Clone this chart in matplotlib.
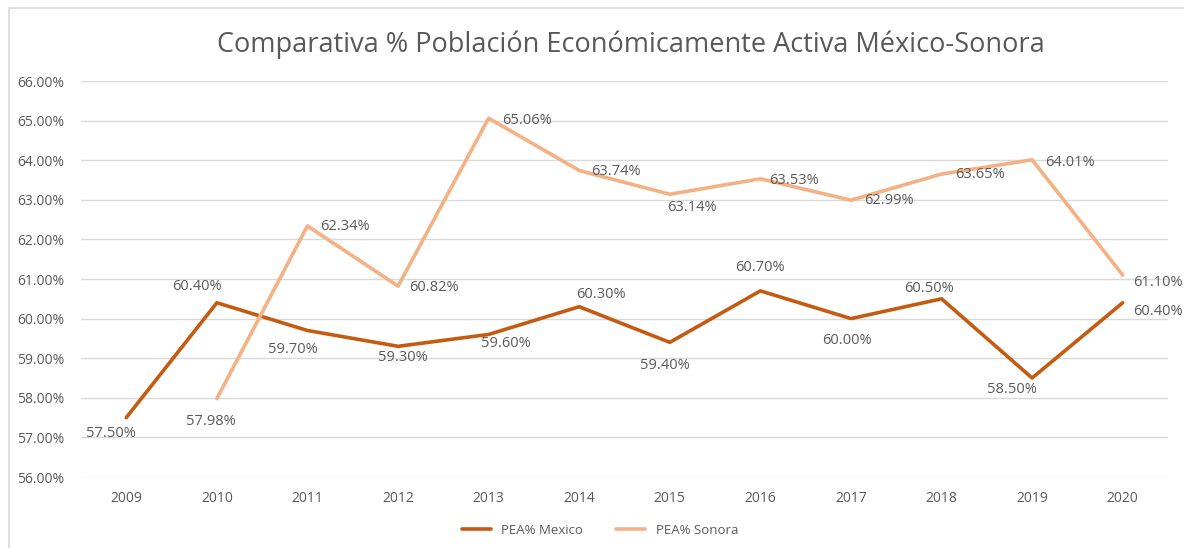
import matplotlib
matplotlib.use("Agg")
import matplotlib.pyplot as plt
from matplotlib.patches import Rectangle

years = ["2009", "2010", "2011", "2012", "2013", "2014", "2015", "2016", "2017", "2018", "2019", "2020"]
pea_mexico = [57.50, 60.40, 59.70, 59.30, 59.60, 60.30, 59.40, 60.70, 60.00, 60.50, 58.50, 60.40]
sonora_years = years[1:]
pea_sonora = [57.98, 62.34, 60.82, 65.06, 63.74, 63.14, 63.53, 62.99, 63.65, 64.01, 61.10]

# desplazamiento de las etiquetas en pixeles (dx, dy hacia abajo), como quedaron en Excel
off_mexico = [(-15, 16), (-20, -16), (-15, 19), (5, 11), (17, 9), (22, -12),
              (-5, 23), (0, -23), (-4, 22), (-13, -10), (-20, 11), (35, 9)]
off_sonora = [(-6, 23), (37, 1), (36, 1), (38, 2), (37, 1), (22, 13),
              (34, 2), (38, 0), (38, 0), (38, 3), (35, 7)]

C_MEX = "#C55A11"
C_SON = "#F4B183"
TXT = "#595959"

plt.rcParams["font.family"] = ["Open Sans", "DejaVu Sans"]

fig = plt.figure(figsize=(11.84, 5.48), dpi=100)
fig.patches.append(Rectangle((9 / 1184, -0.05), 1.1, 1 - 8 / 548 + 0.05, transform=fig.transFigure,
                             fill=False, edgecolor="#d9d9d9", linewidth=1.2))
ax = fig.add_axes([81 / 1184, 1 - 477 / 548, 1087 / 1184, 396 / 548])

x_mex = list(range(len(years)))
x_son = [years.index(y) for y in sonora_years]
ax.plot(x_mex, pea_mexico, color=C_MEX, linewidth=2.6, label="PEA% Mexico", solid_capstyle="round")
ax.plot(x_son, pea_sonora, color=C_SON, linewidth=2.6, label="PEA% Sonora", solid_capstyle="round")


def label_points(xs, ys, offs):
    for xv, yv, (dx, dy) in zip(xs, ys, offs):
        ax.annotate(f"{yv:.2f}%", (xv, yv), xytext=(dx, -dy), textcoords="offset pixels",
                    ha="center", va="center", fontsize=10.5, color=TXT)


label_points(x_mex, pea_mexico, off_mexico)
label_points(x_son, pea_sonora, off_sonora)

ax.set_xlim(-0.5, len(years) - 0.5)
ax.set_ylim(56, 66)
ax.set_yticks(range(56, 67))
ax.set_yticklabels([f"{v:.2f}%" for v in range(56, 67)])
ax.set_xticks(x_mex)
ax.set_xticklabels(years)
ax.tick_params(axis="both", length=0, colors=TXT, labelsize=10)
ax.tick_params(axis="x", pad=10)
ax.tick_params(axis="y", pad=12)
ax.grid(axis="y", color="#d9d9d9", linewidth=1)
ax.set_axisbelow(True)
for s in ax.spines.values():
    s.set_visible(False)

fig.text(631 / 1184, 1 - 45 / 548, "Comparativa % Población Económicamente Activa México-Sonora",
         ha="center", va="center", fontsize=19.5, color=TXT)

fig.legend(loc="center", bbox_to_anchor=(600 / 1184, 1 - 530 / 548), ncol=2, frameon=False,
           fontsize=9.5, labelcolor=TXT, handlelength=2.2, columnspacing=2.5)

fig.savefig("out.png", dpi=100)
